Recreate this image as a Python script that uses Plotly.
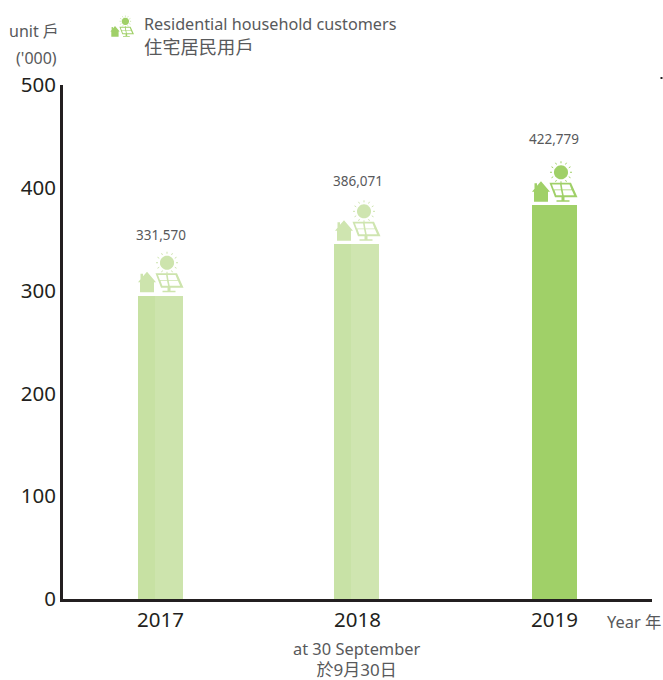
import math
import plotly.graph_objects as go

years = ["2017", "2018", "2019"]
bar_heights = [295, 345, 383]          # solid column height, thousand units
totals = [331.57, 386.071, 422.779]    # labelled value, column + icon
total_labels = ["331,570", "386,071", "422,779"]
label_shifts = [23, 21, 25]
bar_colors = ["#cde4ad", "#cfe5b0", "#a0d068"]
shade_colors = ["#c7e1a3", "#c8e2a6", "#a0d068"]
icon_colors = ["#cde4ad", "#cfe5b0", "#a0d068"]
bar_offsets = [-0.114, -0.118, -0.114]
y_ticks = [0, 100, 200, 300, 400, 500]

INK = "#231f20"
GREY = "#58595b"
FONT = "Noto Sans, Open Sans, Noto Sans CJK TC, sans-serif"

PLOT_L, PLOT_R, PLOT_T, PLOT_B = 63, 652, 85, 599


def poly(pts, s):
    # pixel-size shape paths: x to the right, y upward from the anchor
    return "M" + " L".join(f"{x*s:.1f},{y*s:.1f}" for x, y in pts) + " Z"


def house(s):
    return poly([(-22.5, 13.5), (-20, 16.5), (-20, 22), (-17.5, 22), (-17.5, 19.5), (-13.5, 24),
                 (-4.5, 13.5), (-6.5, 13.5), (-6.5, 3.5), (-20.5, 3.5), (-20.5, 13.5)], s)


def panel(s):
    return (poly([(-5, 22.5), (16.5, 22.5), (23, 8), (0.5, 8)], s) + " " +
            poly([(7, 8), (10, 8), (10, 5), (15, 5), (15, 3.5), (2, 3.5), (2, 5), (7, 5)], s))


def cells(s):
    rows = [[(-2.5, 20.8), (5.6, 20.8), (6.4, 15.8), (-0.6, 15.8)],
            [(7.2, 20.8), (15, 20.8), (17, 15.8), (8, 15.8)],
            [(0, 15), (6.5, 15), (7.6, 10), (1.8, 10)],
            [(8.2, 15), (17.4, 15), (19.6, 10), (9.2, 10)]]
    return " ".join(poly(r, s) for r in rows)


SUN_X, SUN_Y = 6.5, 33


def sun(s):
    pts = [(SUN_X + 7 * math.cos(k * math.pi / 16), SUN_Y + 7 * math.sin(k * math.pi / 16)) for k in range(32)]
    return poly(pts, s)


def rays(s):
    parts = []
    for k in range(12):
        a = k * math.pi / 6
        parts.append(f"M{(SUN_X+9*math.cos(a))*s:.1f},{(SUN_Y+9*math.sin(a))*s:.1f} "
                     f"L{(SUN_X+11*math.cos(a))*s:.1f},{(SUN_Y+11*math.sin(a))*s:.1f}")
    return " ".join(parts)


def icon_shapes(color, xref, xanchor, yref, yanchor, s=1.0):
    base = dict(xref=xref, yref=yref, xsizemode="pixel", ysizemode="pixel",
                xanchor=xanchor, yanchor=yanchor, type="path", layer="above")
    return [
        dict(base, path=house(s), fillcolor=color, line=dict(width=0)),
        dict(base, path=panel(s), fillcolor=color, line=dict(width=0)),
        dict(base, path=cells(s), fillcolor="white", line=dict(width=0)),
        dict(base, path=sun(s), fillcolor=color, line=dict(width=0)),
        dict(base, path=rays(s), line=dict(color=color, width=1 if s == 1 else 0.6)),
    ]


fig = go.Figure()
fig.add_bar(x=years, y=bar_heights, marker=dict(color=bar_colors, line=dict(width=0)),
            width=0.228, offset=bar_offsets, hoverinfo="skip", showlegend=False)
fig.add_bar(x=years[:2], y=bar_heights[:2], marker=dict(color=shade_colors[:2], line=dict(width=0)),
            width=0.086, offset=bar_offsets[:2], hoverinfo="skip", showlegend=False)

W = PLOT_R - PLOT_L
H = PLOT_B - PLOT_T


def fx(x):
    return (x - PLOT_L) / W


def fy(y):
    return (PLOT_B - y) / H


shapes = []
for i, (h, c) in enumerate(zip(bar_heights, icon_colors)):
    shapes += icon_shapes(c, "x", i, "y", h)
shapes += icon_shapes("#a0d068", "paper", fx(122), "paper", fy(38.5), s=0.52)
shapes.append(dict(type="rect", xref="paper", yref="paper", x0=fx(660.5), x1=fx(662.5),
                   y0=fy(79), y1=fy(77), fillcolor=INK, line=dict(width=0)))

annotations = []
for i, (t, lab, sh) in enumerate(zip(totals, total_labels, label_shifts)):
    annotations.append(dict(x=i, y=t, xref="x", yref="y", text=lab, showarrow=False,
                            yshift=sh, font=dict(size=13.5, color=GREY, family=FONT)))


def px(x, y, text, size, color=GREY, xanchor="left", yanchor="middle"):
    annotations.append(dict(x=fx(x), y=fy(y), xref="paper", yref="paper",
                            text=text, showarrow=False, xanchor=xanchor, yanchor=yanchor,
                            font=dict(size=size, color=color, family=FONT)))


px(34, 31, "unit 戶", 16, xanchor="center")
px(36.5, 58, "('000)", 16, xanchor="center")
px(142, 24, "Residential household customers", 16.2)
px(142, 46, "住宅居民用戶", 18.3)
px(634, 621, "Year 年", 16.4, xanchor="center")
px(356.5, 658.5, "at 30 September<br><span style='font-size:17px'>於9月30日</span>", 16.4, xanchor="center")

fig.update_layout(
    width=663, height=680, autosize=False,
    margin=dict(l=PLOT_L, r=663 - PLOT_R, t=PLOT_T, b=680 - PLOT_B),
    paper_bgcolor="white", plot_bgcolor="white",
    barmode="overlay", bargap=0, showlegend=False,
    shapes=shapes, annotations=annotations,
    font=dict(family=FONT, color=INK),
    xaxis=dict(type="category", categoryorder="array", categoryarray=years, range=[-0.495, 2.495],
               showgrid=False, zeroline=False, showline=True, linecolor=INK, linewidth=3,
               ticks="", ticklen=0, tickfont=dict(size=20.5, color=INK, family=FONT)),
    yaxis=dict(range=[0, 500], tickvals=y_ticks, showgrid=False, zeroline=False, showline=True,
               linecolor=INK, linewidth=3, ticks="", tickfont=dict(size=20.5, color=INK, family=FONT)),
)

fig.write_html("out.html", config=dict(displayModeBar=False),
               post_script="document.body.style.margin='0';document.documentElement.style.overflow='hidden';")
